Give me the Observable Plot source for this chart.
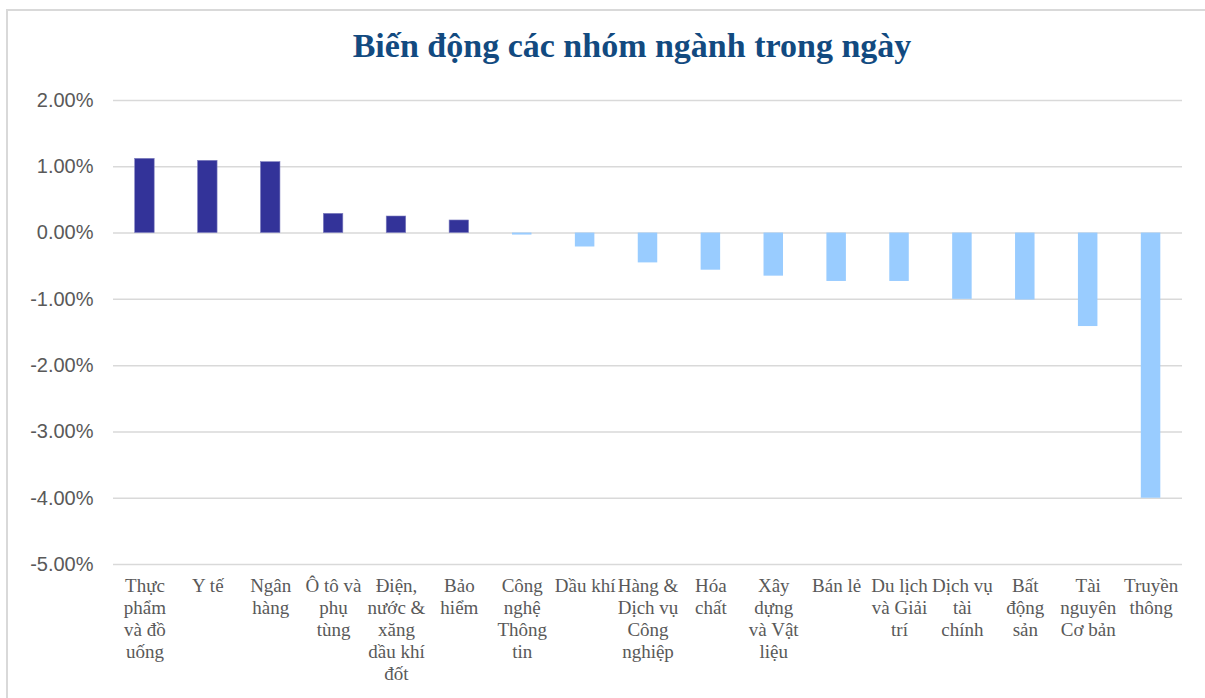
<!DOCTYPE html>
<html>
<head>
<meta charset="utf-8">
<script src="https://cdn.jsdelivr.net/npm/d3@7"></script>
<script src="https://cdn.jsdelivr.net/npm/@observablehq/plot@0.6"></script>
<style>
  html, body { margin: 0; padding: 0; background: #ffffff; overflow: hidden; }
  #wrap { position: relative; width: 1205px; height: 698px; }
  #frame { position: absolute; left: 6px; top: 9px; width: 1300px; height: 800px;
           border-left: 2px solid #d9d9d9; border-top: 2px solid #d9d9d9; box-sizing: border-box; }
  #title { position: absolute; left: 332px; width: 600px; top: 28px; text-align: center;
           white-space: nowrap; font-family: "Liberation Serif", serif; font-weight: bold;
           font-size: 34px; color: #124a80; line-height: 36px; }
  #chart { position: absolute; left: 0; top: 80px; }
</style>
</head>
<body>
<div id="wrap">
  <div id="frame"></div>
  <div id="title">Biến động các nhóm ngành trong ngày</div>
  <div id="chart"></div>
</div>
<script>
const categories = ["Thực phẩm và đồ uống","Y tế","Ngân hàng","Ô tô và phụ tùng","Điện, nước & xăng dầu khí đốt","Bảo hiểm","Công nghệ Thông tin","Dầu khí","Hàng & Dịch vụ Công nghiệp","Hóa chất","Xây dựng và Vật liệu","Bán lẻ","Du lịch và Giải trí","Dịch vụ tài chính","Bất động sản","Tài nguyên Cơ bản","Truyền thông"];
const tickLabels = ["Thực\nphẩm\nvà đồ\nuống","Y tế","Ngân\nhàng","Ô tô và\nphụ\ntùng","Điện,\nnước &\nxăng\ndầu khí\nđốt","Bảo\nhiểm","Công\nnghệ\nThông\ntin","Dầu khí","Hàng &\nDịch vụ\nCông\nnghiệp","Hóa\nchất","Xây\ndựng\nvà Vật\nliệu","Bán lẻ","Du lịch\nvà Giải\ntrí","Dịch vụ\ntài\nchính","Bất\nđộng\nsản","Tài\nnguyên\nCơ bản","Truyền\nthông"];
const values = [1.12, 1.09, 1.07, 0.29, 0.25, 0.19, -0.03, -0.21, -0.45, -0.56, -0.65, -0.73, -0.73, -1.00, -1.01, -1.41, -4.00];
const yTicks = [2, 1, 0, -1, -2, -3, -4, -5];

const data = categories.map((c, i) => ({category: c, value: values[i]}));
const fmt = v => v.toFixed(2) + "%";

const chart = Plot.plot({
  width: 1205,
  height: 618,
  marginTop: 20,
  marginBottom: 134,
  marginLeft: 113,
  marginRight: 23,
  style: {color: "#595959", background: "transparent", overflow: "visible"},
  x: {domain: categories, paddingInner: 0.69, paddingOuter: 0.345, round: false, label: null},
  y: {domain: [-5, 2], label: null},
  marks: [
    Plot.ruleY(yTicks, {stroke: "#d9d9d9", strokeWidth: 1.5}),
    Plot.barY(data.filter(d => d.value >= 0), {x: "category", y: "value", fill: "#333399", stroke: "#8080c0", strokeWidth: 0.6}),
    Plot.barY(data.filter(d => d.value < 0), {x: "category", y: "value", fill: "#99ccff"}),
    Plot.axisY({ticks: yTicks, tickSize: 0, tickPadding: 20, tickFormat: fmt, label: null,
                fontSize: 20, fontFamily: "Liberation Sans, sans-serif", fill: "#595959"}),
    Plot.axisX({tickSize: 0, tickPadding: 12, label: null,
                tickFormat: d => tickLabels[categories.indexOf(d)],
                fontSize: 19, lineHeight: 1.16, fontFamily: "Liberation Serif, serif", fill: "#595959"})
  ]
});
document.getElementById("chart").appendChild(chart);
</script>
</body>
</html>
